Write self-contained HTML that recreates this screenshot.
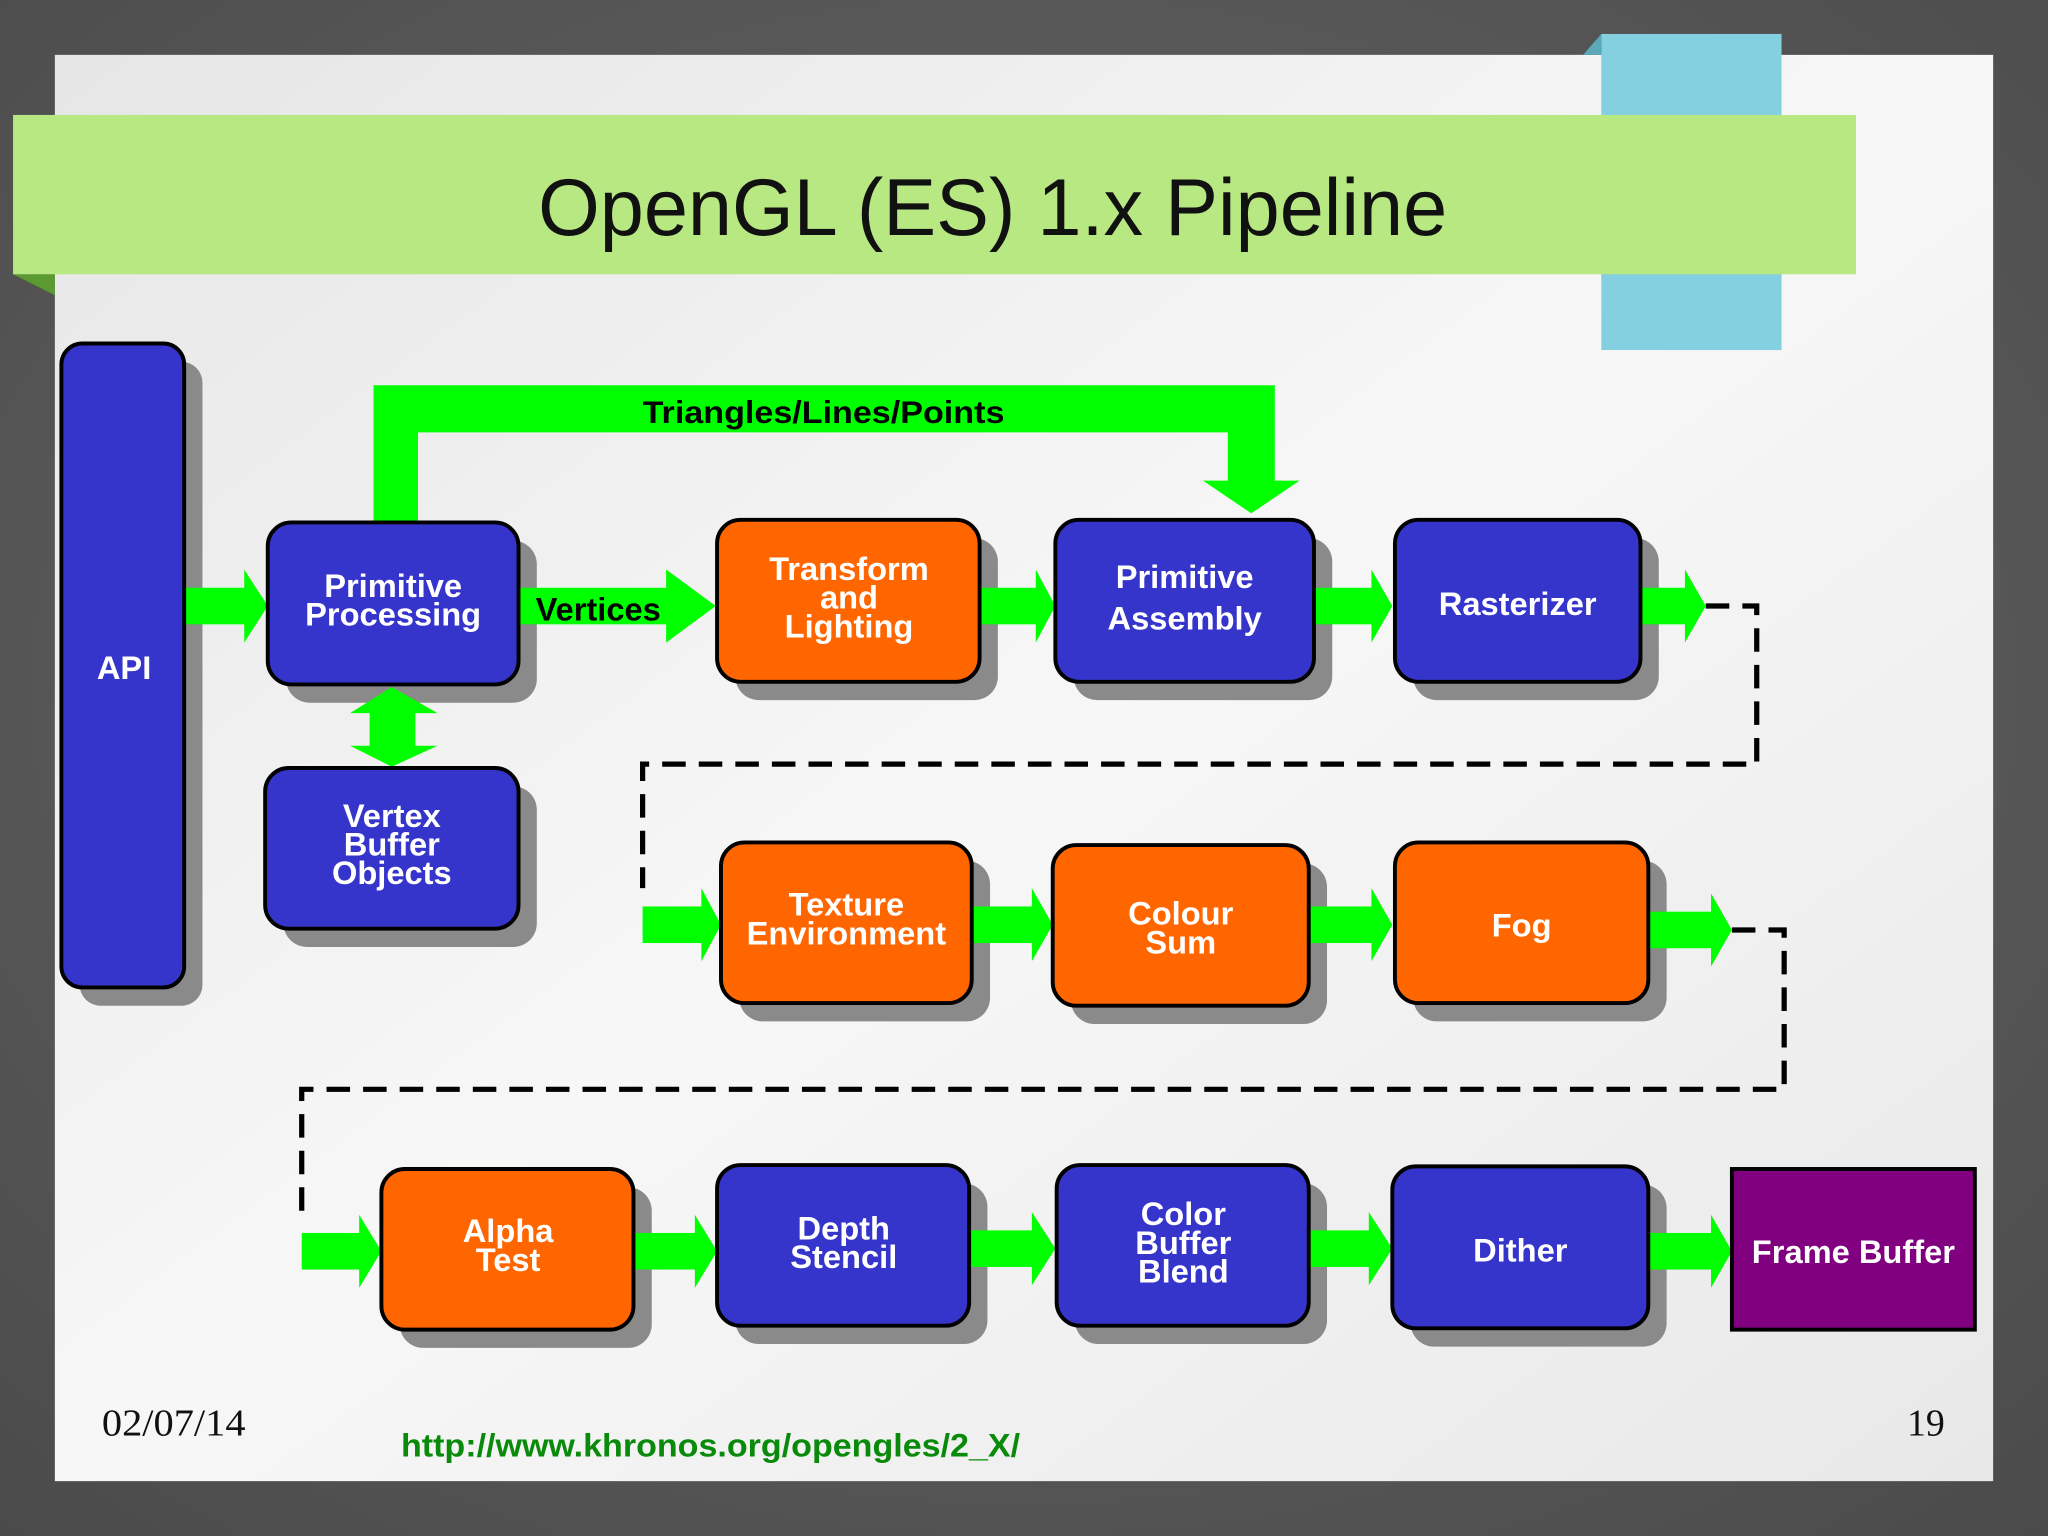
<!DOCTYPE html>
<html><head><meta charset="utf-8"><style>
html,body{margin:0;padding:0;background:#555;}
svg{display:block}
text{font-family:"Liberation Sans",sans-serif;}
.w{fill:#fff;font-weight:bold;font-size:25px;text-anchor:middle}
</style></head><body>
<svg width="2048" height="1536" viewBox="0 0 1568 1176" xmlns="http://www.w3.org/2000/svg">
<defs>
<radialGradient id="bg" cx="50%" cy="45%" r="75%"><stop offset="0" stop-color="#6a6a6a"/><stop offset="1" stop-color="#4a4a4a"/></radialGradient>
<linearGradient id="sl" x1="0" y1="0" x2="1" y2="1"><stop offset="0" stop-color="#e6e6e6"/><stop offset="0.5" stop-color="#f7f7f7"/><stop offset="1" stop-color="#e8e8e8"/></linearGradient>
</defs>
<rect width="1568" height="1176" fill="url(#bg)"/>
<rect x="42" y="42" width="1484" height="1092" fill="url(#sl)"/>
<rect x="1226" y="26" width="138" height="242" fill="#84d0e0"/>
<polygon points="1212,42 1226,26 1226,42" fill="#5aa8b8"/>
<polygon points="10,210 42,210 42,226" fill="#5a9a30"/>
<rect x="10" y="88" width="1411" height="122" fill="#b8e882"/>
<text x="412" y="180" font-size="62" textLength="696" lengthAdjust="spacingAndGlyphs" fill="#111">OpenGL (ES) 1.x Pipeline</text>

<g fill="#8a8a8a">
<rect x="61" y="277" width="94" height="493" rx="16"/>
<rect x="219" y="414" width="192" height="124" rx="18"/>
<rect x="217" y="602" width="194" height="123" rx="18"/>
<rect x="563" y="412" width="201" height="124" rx="18"/>
<rect x="822" y="412" width="198" height="124" rx="18"/>
<rect x="1082" y="412" width="188" height="124" rx="18"/>
<rect x="566" y="659" width="192" height="123" rx="18"/>
<rect x="820" y="661" width="196" height="123" rx="18"/>
<rect x="1082" y="659" width="194" height="123" rx="18"/>
<rect x="306" y="909" width="193" height="123" rx="18"/>
<rect x="563" y="906" width="193" height="123" rx="18"/>
<rect x="823" y="906" width="193" height="123" rx="18"/>
<rect x="1080" y="907" width="196" height="124" rx="18"/>
</g>

<g fill="#00ff00">
<path d="M286,400 L286,295 L976,295 L976,368 L995,368 L958,393 L921,368 L940,368 L940,331 L320,331 L320,400 Z"/>
<rect x="283" y="545" width="35" height="28"/>
<polygon points="268,546 335,546 300,526"/>
<polygon points="268,571 335,571 300,587"/>
<rect x="141" y="450" width="48" height="28"/><polygon points="187,436 205,464 187,492"/>
<rect x="397" y="450" width="115" height="28"/><polygon points="510,436 548,464 510,492"/>
<rect x="750" y="450" width="45" height="28"/><polygon points="793,436 808,464 793,492"/>
<rect x="1006" y="450" width="46" height="28"/><polygon points="1050,436 1066,464 1050,492"/>
<rect x="1256" y="450" width="36" height="28"/><polygon points="1290,436 1306,464 1290,492"/>
<rect x="492" y="694" width="47" height="28"/><polygon points="537,680 552,708 537,736"/>
<rect x="744" y="694" width="48" height="28"/><polygon points="790,680 806,708 790,736"/>
<rect x="1002" y="694" width="50" height="28"/><polygon points="1050,680 1066,708 1050,736"/>
<rect x="1262" y="698" width="50" height="28"/><polygon points="1310,684 1326,712 1310,740"/>
<rect x="231" y="944" width="46" height="28"/><polygon points="275,930 292,958 275,986"/>
<rect x="485" y="944" width="49" height="28"/><polygon points="532,930 549,958 532,986"/>
<rect x="742" y="942" width="50" height="28"/><polygon points="790,928 808,956 790,984"/>
<rect x="1002" y="942" width="48" height="28"/><polygon points="1048,928 1066,956 1048,984"/>
<rect x="1262" y="944" width="50" height="28"/><polygon points="1310,930 1326,958 1310,986"/>
</g>

<g fill="none" stroke="#000" stroke-width="4" stroke-dasharray="18,10">
<polyline points="1306,464 1345,464 1345,585 492,585 492,680"/>
<polyline points="1326,712 1366,712 1366,834 231,834 231,930"/>
</g>

<g stroke="#000" stroke-width="3">
<rect x="47" y="263" width="94" height="493" rx="16" fill="#3535cc"/>
<rect x="205" y="400" width="192" height="124" rx="18" fill="#3535cc"/>
<rect x="203" y="588" width="194" height="123" rx="18" fill="#3535cc"/>
<rect x="549" y="398" width="201" height="124" rx="18" fill="#ff6600"/>
<rect x="808" y="398" width="198" height="124" rx="18" fill="#3535cc"/>
<rect x="1068" y="398" width="188" height="124" rx="18" fill="#3535cc"/>
<rect x="552" y="645" width="192" height="123" rx="18" fill="#ff6600"/>
<rect x="806" y="647" width="196" height="123" rx="18" fill="#ff6600"/>
<rect x="1068" y="645" width="194" height="123" rx="18" fill="#ff6600"/>
<rect x="292" y="895" width="193" height="123" rx="18" fill="#ff6600"/>
<rect x="549" y="892" width="193" height="123" rx="18" fill="#3535cc"/>
<rect x="809" y="892" width="193" height="123" rx="18" fill="#3535cc"/>
<rect x="1066" y="893" width="196" height="124" rx="18" fill="#3535cc"/>
<rect x="1326" y="895" width="186" height="123" fill="#800080"/>
</g>

<text x="492" y="324" font-size="24" font-weight="bold" textLength="277" lengthAdjust="spacingAndGlyphs" fill="#000">Triangles/Lines/Points</text>
<text x="458" y="475" font-size="25" font-weight="bold" text-anchor="middle" fill="#000">Vertices</text>
<text class="w" x="95" y="520">API</text>
<text class="w" x="301" y="457">Primitive</text><text class="w" x="301" y="479">Processing</text>
<text class="w" x="300" y="633">Vertex</text><text class="w" x="300" y="655">Buffer</text><text class="w" x="300" y="677">Objects</text>
<text class="w" x="650" y="444">Transform</text><text class="w" x="650" y="466">and</text><text class="w" x="650" y="488">Lighting</text>
<text class="w" x="907" y="450">Primitive</text><text class="w" x="907" y="482">Assembly</text>
<text class="w" x="1162" y="471">Rasterizer</text>
<text class="w" x="648" y="701">Texture</text><text class="w" x="648" y="723">Environment</text>
<text class="w" x="904" y="708">Colour</text><text class="w" x="904" y="730">Sum</text>
<text class="w" x="1165" y="717">Fog</text>
<text class="w" x="389" y="951">Alpha</text><text class="w" x="389" y="973">Test</text>
<text class="w" x="646" y="949">Depth</text><text class="w" x="646" y="971">Stencil</text>
<text class="w" x="906" y="938">Color</text><text class="w" x="906" y="960">Buffer</text><text class="w" x="906" y="982">Blend</text>
<text class="w" x="1164" y="966">Dither</text>
<text class="w" x="1419" y="967">Frame Buffer</text>

<text x="78" y="1099" font-size="29" textLength="110" lengthAdjust="spacingAndGlyphs" fill="#111" style="font-family:'Liberation Serif',serif">02/07/14</text>
<text x="1489" y="1099" font-size="29" text-anchor="end" fill="#111" style="font-family:'Liberation Serif',serif">19</text>
<text x="307" y="1115" font-size="25" font-weight="bold" textLength="474" lengthAdjust="spacingAndGlyphs" fill="#0a8a0a">http://www.khronos.org/opengles/2_X/</text>
</svg>
</body></html>
